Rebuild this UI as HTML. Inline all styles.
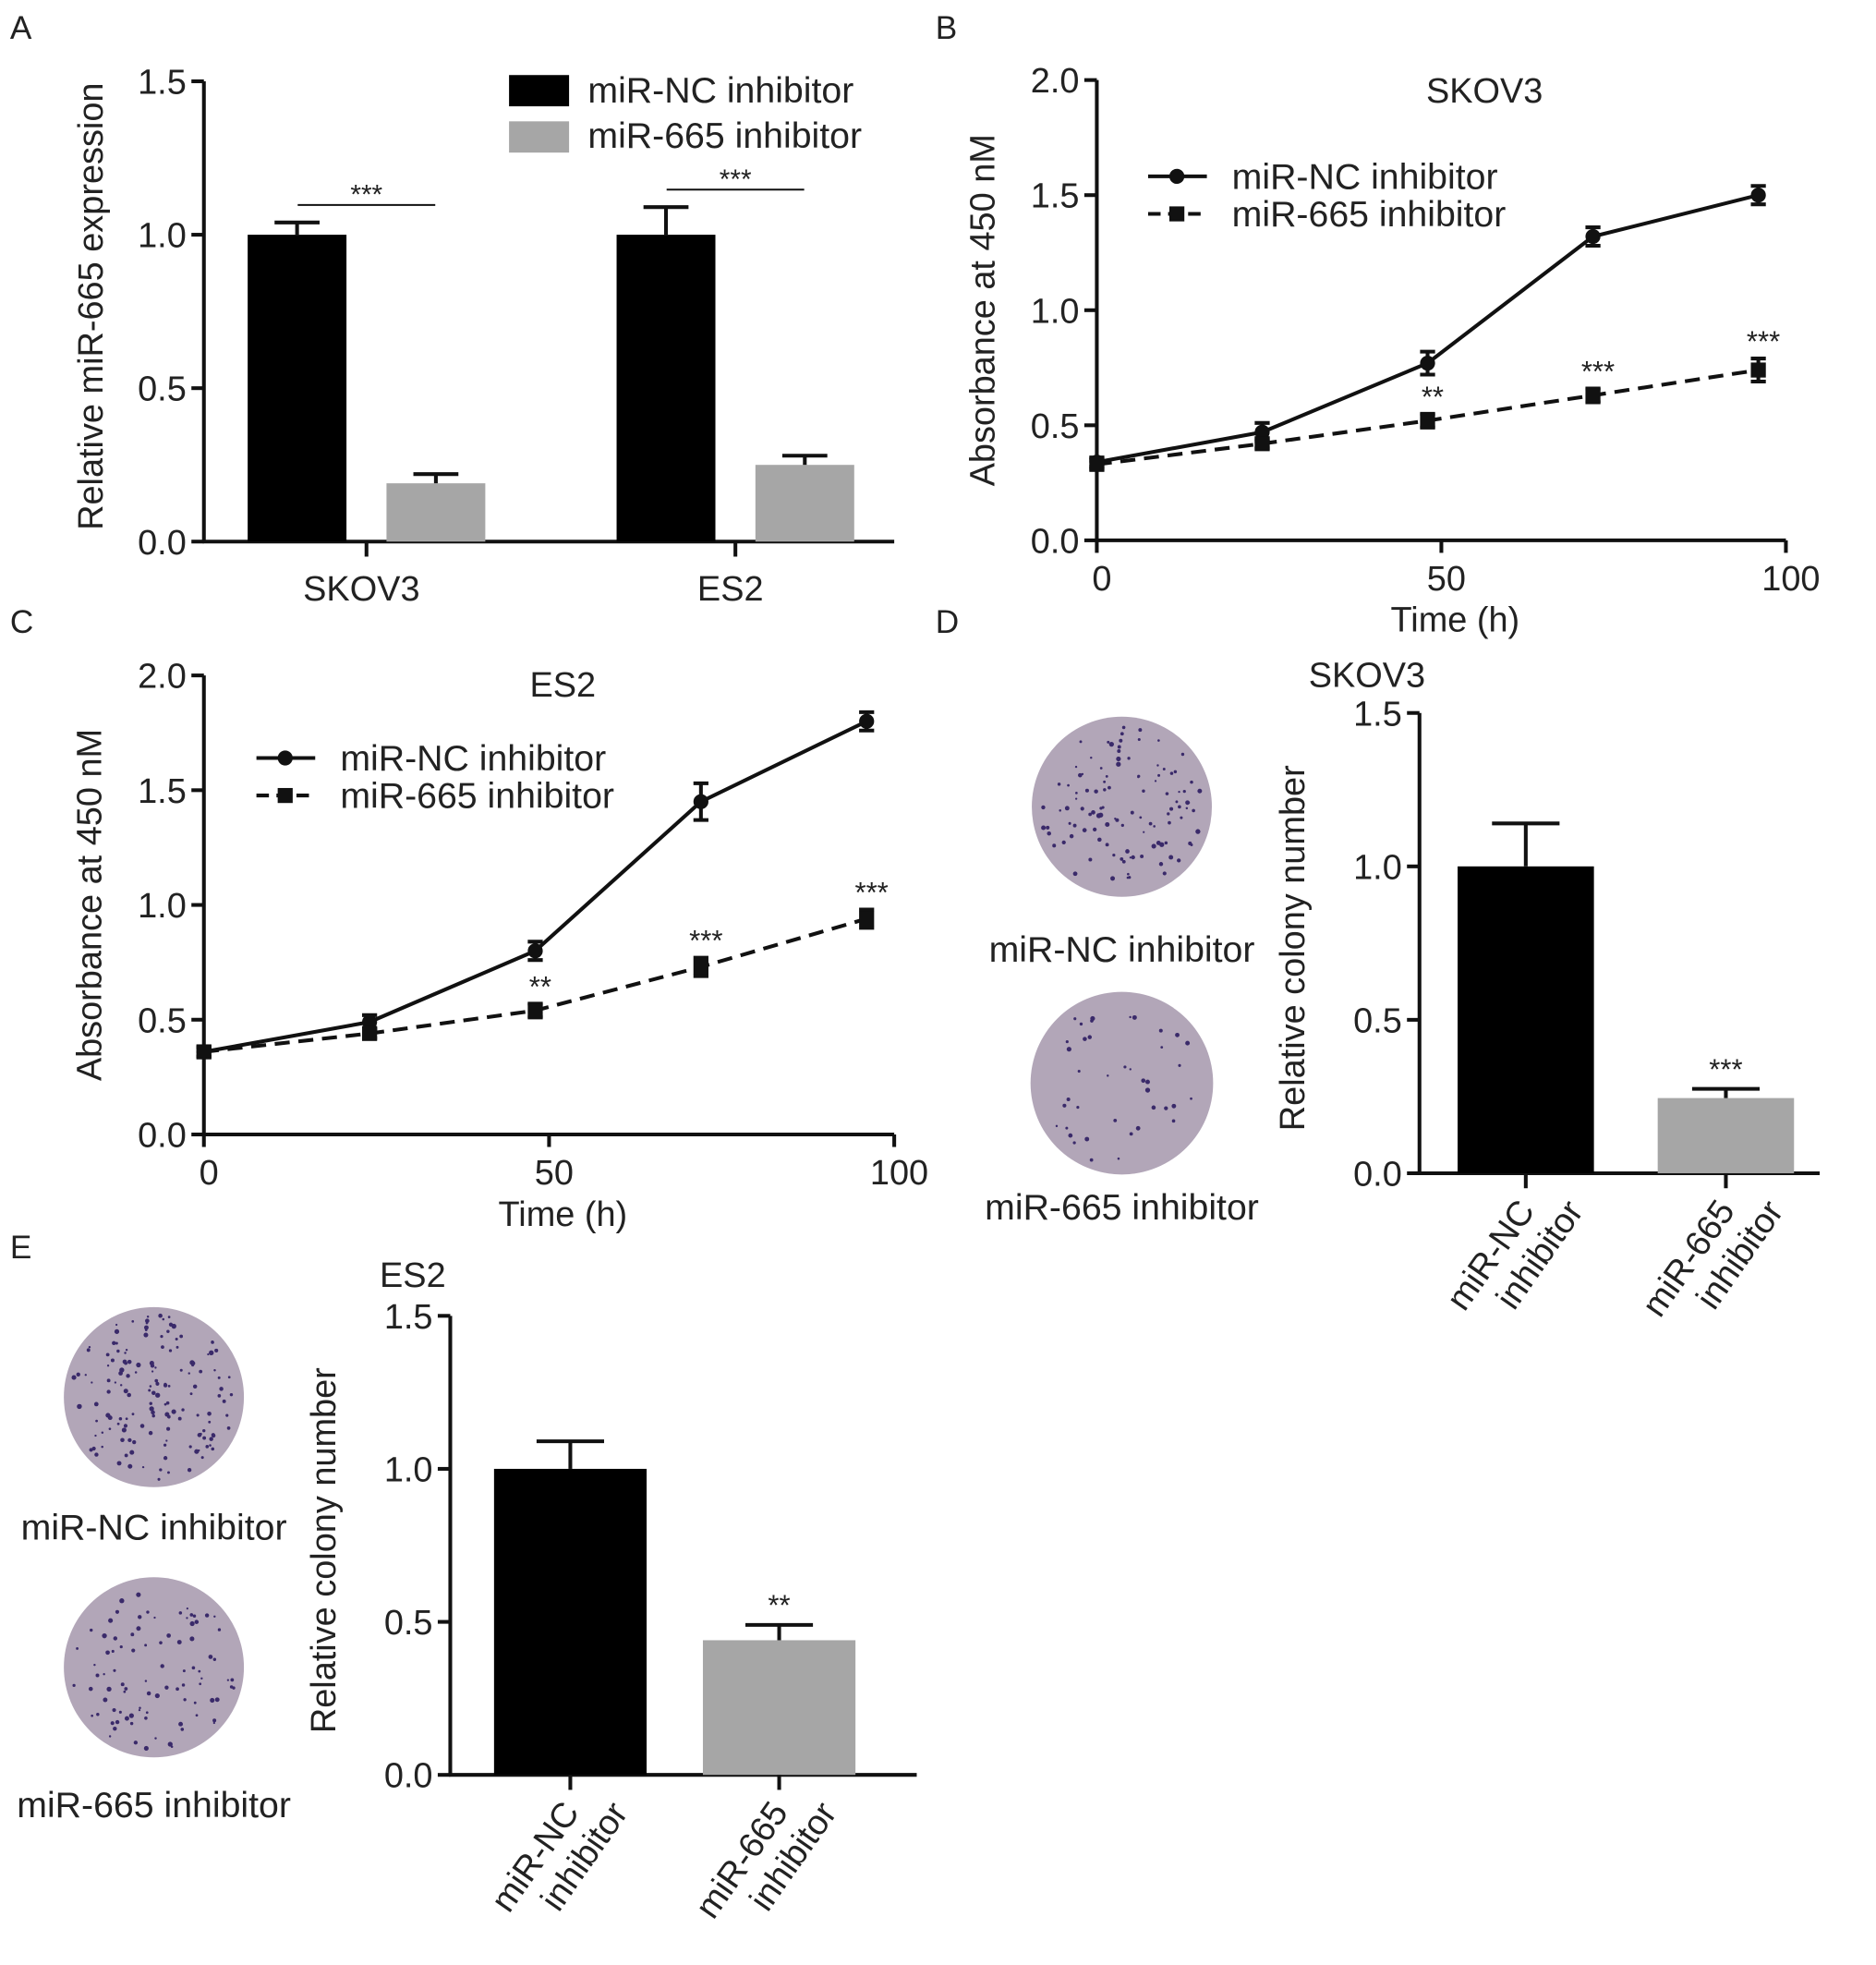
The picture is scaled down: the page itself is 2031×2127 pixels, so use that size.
<!DOCTYPE html>
<html><head><meta charset="utf-8"><style>
html,body{margin:0;padding:0;background:#fff}
svg{display:block}
text{font-family:"Liberation Sans",sans-serif;fill:#222}
</style></head><body>
<svg id="fig" xmlns="http://www.w3.org/2000/svg" width="2031" height="2127" viewBox="0 0 1500 1571">
<g font-size="26">
<text x="8" y="31">A</text><text x="748" y="31">B</text><text x="8" y="506">C</text><text x="748" y="506">D</text><text x="8" y="1006">E</text>
</g>
<g id="dishes"></g>
</svg>
<script>
// Panel A data
const aGroups = ["SKOV3", "ES2"];
const aNC = [1.0, 1.0];
const aNCErr = [0.04, 0.09];
const a665 = [0.19, 0.25];
const a665Err = [0.03, 0.03];
const aTicks = ["0.0", "0.5", "1.0", "1.5"];
// Panel B data
const bTime = [0, 24, 48, 72, 96];
const bNC = [0.34, 0.47, 0.77, 1.32, 1.50];
const bNCErr = [0.02, 0.04, 0.05, 0.04, 0.04];
const b665 = [0.33, 0.42, 0.52, 0.63, 0.74];
const b665Err = [0.02, 0.02, 0.03, 0.03, 0.05];
const bStars = ["", "", "**", "***", "***"];
// Panel C data
const cTime = [0, 24, 48, 72, 96];
const cNC = [0.36, 0.49, 0.80, 1.45, 1.80];
const cNCErr = [0.02, 0.03, 0.04, 0.08, 0.04];
const c665 = [0.36, 0.44, 0.54, 0.73, 0.94];
const c665Err = [0.02, 0.02, 0.03, 0.04, 0.04];
const cStars = ["", "", "**", "***", "***"];
const lineTicks = ["0.0", "0.5", "1.0", "1.5", "2.0"];
const xTicks = [0, 50, 100];
// Panel D data
const dCats = ["miR-NC|inhibitor", "miR-665|inhibitor"];
const dVals = [1.0, 0.245];
const dErr = [0.14, 0.03];
const dStars = ["", "***"];
// Panel E data
const eCats = ["miR-NC|inhibitor", "miR-665|inhibitor"];
const eVals = [1.0, 0.44];
const eErr = [0.09, 0.05];
const eStars = ["", "**"];

const NS = "http://www.w3.org/2000/svg";
const svg = document.getElementById('fig');
function mk(tag, attrs, parent, txt) {
  const e = document.createElementNS(NS, tag);
  for (const k in attrs) e.setAttribute(k, attrs[k]);
  if (txt !== undefined) e.textContent = txt;
  (parent || svg).appendChild(e);
  return e;
}
function yAxis(g, x, y0, yTop, ticks, max, title, tx, ty) {
  const ys = v => y0 - v / max * (y0 - yTop);
  const ax = mk('line', {x1: x, y1: y0 + 1, x2: x, y2: yTop, stroke: '#111', 'stroke-width': 3}, g);
  
  
  ticks.forEach(t => {
    const y = ys(parseFloat(t));
    mk('line', {x1: x - 10, y1: y, x2: x, y2: y, stroke: '#111', 'stroke-width': 3}, g);
    const tl = mk('text', {x: x - 14, y: y + 10, 'font-size': 28, 'text-anchor': 'end'}, g, t);
    
    
  });
  const tt = mk('text', {x: 0, y: 0, 'font-size': 28, 'text-anchor': 'middle', transform: `translate(${tx},${ty}) rotate(-90)`}, g, title);
  
  
  return ys;
}
function errBar(g, x, yv, ye, w) {
  mk('line', {x1: x, y1: yv, x2: x, y2: ye, stroke: '#111', 'stroke-width': 3}, g);
  mk('line', {x1: x - w, y1: ye, x2: x + w, y2: ye, stroke: '#111', 'stroke-width': 3}, g);
}

// ---------- Panel A ----------
(function () {
  const g = mk('g', {});
  
  
  const ys = yAxis(g, 163, 433, 65, aTicks, 1.5, 'Relative miR-665 expression', 82, 245);
  mk('line', {x1: 162, y1: 433, x2: 715, y2: 433, stroke: '#111', 'stroke-width': 3}, g);
  const centers = [293, 588];
  aGroups.forEach((name, i) => {
    const c = centers[i];
    const b1 = mk('rect', {x: c - 95, y: ys(aNC[i]), width: 79, height: 433 - ys(aNC[i]), fill: '#000'}, g);
    
    
    errBar(g, c - 55.5, ys(aNC[i]), ys(aNC[i] + aNCErr[i]), 18);
    const b2 = mk('rect', {x: c + 16, y: ys(a665[i]), width: 79, height: 433 - ys(a665[i]), fill: '#a6a6a6'}, g);
    
    
    errBar(g, c + 55.5, ys(a665[i]), ys(a665[i] + a665Err[i]), 18);
    mk('line', {x1: c, y1: 433, x2: c, y2: 445, stroke: '#111', 'stroke-width': 3}, g);
    const xl = mk('text', {x: c - 4, y: 480, 'font-size': 28, 'text-anchor': 'middle'}, g, name);
    
    
    const top = ys(Math.max(aNC[i] + aNCErr[i], a665[i])) - 14;
    mk('line', {x1: c - 55, y1: top, x2: c + 55, y2: top, stroke: '#111', 'stroke-width': 1.5}, g);
    const s = mk('text', {x: c, y: top - 1, 'font-size': 22, 'text-anchor': 'middle'}, g, '***');
    
    
  });
  const l1 = mk('g', {}, g);
  
  
  mk('rect', {x: 407, y: 60, width: 48, height: 25, fill: '#000'}, l1);
  mk('text', {x: 470, y: 82, 'font-size': 29}, l1, 'miR-NC inhibitor');
  const l2 = mk('g', {}, g);
  
  
  mk('rect', {x: 407, y: 97, width: 48, height: 25, fill: '#a6a6a6'}, l2);
  mk('text', {x: 470, y: 118, 'font-size': 29}, l2, 'miR-665 inhibitor');
})();

// ---------- Line panels ----------
function linePanel(nm, o, time, nc, ncE, m665, m665E, stars) {
  const g = mk('g', {});
  
  
  const ys = yAxis(g, o.x0, o.y0, o.yTop, lineTicks, 2.0, 'Absorbance at 450 nM', o.x0 - 82, (o.y0 + o.yTop) / 2);
  const xs = v => o.x0 + v / 100 * (o.x1 - o.x0);
  mk('line', {x1: o.x0 - 1, y1: o.y0, x2: o.x1, y2: o.y0, stroke: '#111', 'stroke-width': 3}, g);
  xTicks.forEach(t => {
    mk('line', {x1: xs(t), y1: o.y0, x2: xs(t), y2: o.y0 + 10, stroke: '#111', 'stroke-width': 3}, g);
    const tl = mk('text', {x: xs(t) + 4, y: o.y0 + 40, 'font-size': 28, 'text-anchor': 'middle'}, g, String(t));
    
    
  });
  const xt = mk('text', {x: xs(52), y: o.y0 + 73, 'font-size': 28, 'text-anchor': 'middle'}, g, 'Time (h)');
  
  
  const ti = mk('text', {x: o.tx, y: o.ty, 'font-size': 28, 'text-anchor': 'middle'}, g, o.title);
  
  
  const p1 = mk('polyline', {points: time.map((t, i) => xs(t) + ',' + ys(nc[i])).join(' '), fill: 'none', stroke: '#111', 'stroke-width': 3}, g);
  
  
  const p2 = mk('polyline', {points: time.map((t, i) => xs(t) + ',' + ys(m665[i])).join(' '), fill: 'none', stroke: '#111', 'stroke-width': 3, 'stroke-dasharray': '12,7'}, g);
  
  
  time.forEach((t, i) => {
    const x = xs(t);
    errBar(g, x, ys(nc[i] - ncE[i]), ys(nc[i] + ncE[i]), 6);
    mk('line', {x1: x - 6, y1: ys(nc[i] - ncE[i]), x2: x + 6, y2: ys(nc[i] - ncE[i]), stroke: '#111', 'stroke-width': 3}, g);
    const pt = mk('circle', {cx: x, cy: ys(nc[i]), r: 6, fill: '#111'}, g);
    
    
    errBar(g, x, ys(m665[i] - m665E[i]), ys(m665[i] + m665E[i]), 6);
    mk('line', {x1: x - 6, y1: ys(m665[i] - m665E[i]), x2: x + 6, y2: ys(m665[i] - m665E[i]), stroke: '#111', 'stroke-width': 3}, g);
    const sq = mk('rect', {x: x - 6, y: ys(m665[i]) - 6, width: 12, height: 12, fill: '#111'}, g);
    
    
    if (stars[i]) {
      const s = mk('text', {x: x + 4, y: ys(m665[i] + m665E[i]) - 6, 'font-size': 23, 'text-anchor': 'middle'}, g, stars[i]);
      
      
    }
  });
  const l1 = mk('g', {}, g);
  
  
  mk('line', {x1: o.lx, y1: o.ly, x2: o.lx + 47, y2: o.ly, stroke: '#111', 'stroke-width': 3}, l1);
  mk('circle', {cx: o.lx + 23, cy: o.ly, r: 6, fill: '#111'}, l1);
  mk('text', {x: o.lx + 67, y: o.ly + 10, 'font-size': 29}, l1, 'miR-NC inhibitor');
  const l2 = mk('g', {}, g);
  
  
  mk('line', {x1: o.lx, y1: o.ly + 30, x2: o.lx + 47, y2: o.ly + 30, stroke: '#111', 'stroke-width': 3, 'stroke-dasharray': '10,6'}, l2);
  mk('rect', {x: o.lx + 17, y: o.ly + 24, width: 12, height: 12, fill: '#111'}, l2);
  mk('text', {x: o.lx + 67, y: o.ly + 40, 'font-size': 29}, l2, 'miR-665 inhibitor');
}
linePanel('panel-b-line-chart', {x0: 877, x1: 1428, y0: 432, yTop: 64, title: 'SKOV3', tx: 1187, ty: 82, lx: 918, ly: 141}, bTime, bNC, bNCErr, b665, b665Err, bStars);
linePanel('panel-c-line-chart', {x0: 163, x1: 715, y0: 907, yTop: 540, title: 'ES2', tx: 450, ty: 557, lx: 205, ly: 606}, cTime, cNC, cNCErr, c665, c665Err, cStars);

// ---------- Colony bar panels ----------
function colonyPanel(nm, o, cats, vals, errs, stars) {
  const g = mk('g', {});
  
  
  const ys = yAxis(g, o.x0, o.y0, o.yTop, aTicks, 1.5, 'Relative colony number', o.x0 - 92, (o.y0 + o.yTop) / 2 + 4);
  mk('line', {x1: o.x0 - 1, y1: o.y0, x2: o.x1, y2: o.y0, stroke: '#111', 'stroke-width': 3}, g);
  const ti = mk('text', {x: o.tx, y: o.ty, 'font-size': 28, 'text-anchor': 'middle'}, g, o.title);
  
  
  const fills = ['#000', '#a6a6a6'];
  cats.forEach((c, i) => {
    const cx = o.centers[i];
    const b = mk('rect', {x: cx - o.bw / 2, y: ys(vals[i]), width: o.bw, height: o.y0 - ys(vals[i]), fill: fills[i]}, g);
    
    
    errBar(g, cx, ys(vals[i]), ys(vals[i] + errs[i]), 27);
    mk('line', {x1: cx, y1: o.y0, x2: cx, y2: o.y0 + 12, stroke: '#111', 'stroke-width': 3}, g);
    const parts = c.split('|');
    const lab = mk('text', {'font-size': 28, 'text-anchor': 'end', transform: `translate(${cx + 8},${o.y0 + 30}) rotate(-55)`}, g);
    
    
    mk('tspan', {x: 0, dy: 0}, lab, parts[0]);
    mk('tspan', {x: 0, dy: 32, dx: 0}, lab, parts[1]);
    lab.lastChild.setAttribute('x', 22);
    if (stars[i]) {
      const s = mk('text', {x: cx, y: ys(vals[i] + errs[i]) - 8, 'font-size': 23, 'text-anchor': 'middle'}, g, stars[i]);
      
      
    }
  });
}
colonyPanel('panel-d-bar-chart', {x0: 1135, x1: 1455, y0: 938, yTop: 570, title: 'SKOV3', tx: 1093, ty: 549, centers: [1220, 1380], bw: 109}, dCats, dVals, dErr, dStars);
colonyPanel('panel-e-bar-chart', {x0: 360, x1: 733, y0: 1419, yTop: 1052, title: 'ES2', tx: 330, ty: 1029, centers: [456, 623], bw: 122}, eCats, eVals, eErr, eStars);

// ---------- Dishes ----------
const dishG = document.getElementById('dishes');
function dish(cx, cy, r, label, ly, n, seed) {
  const g = mk('g', {}, dishG);
  
  
  mk('circle', {cx: cx, cy: cy, r: r, fill: '#b2a6b8'}, g);
  let s = seed;
  const rnd = () => { s = (s * 9301 + 49297) % 233280; return s / 233280; };
  for (let i = 0; i < n; i++) {
    const a = rnd() * 6.283, d = Math.sqrt(rnd()) * (r - 6);
    mk('circle', {cx: cx + Math.cos(a) * d, cy: cy + Math.sin(a) * d, r: 0.8 + rnd() * 1.2, fill: '#3a2a6a'}, g);
  }
  const t = mk('text', {x: cx, y: ly, 'font-size': 29, 'text-anchor': 'middle'}, dishG, label);
  
  
}
dish(897, 645, 72, 'miR-NC inhibitor', 769, 110, 7);
dish(897, 866, 73, 'miR-665 inhibitor', 975, 40, 11);
dish(123, 1117, 72, 'miR-NC inhibitor', 1231, 150, 13);
dish(123, 1333, 72, 'miR-665 inhibitor', 1453, 90, 17);
</script>
</body></html>
